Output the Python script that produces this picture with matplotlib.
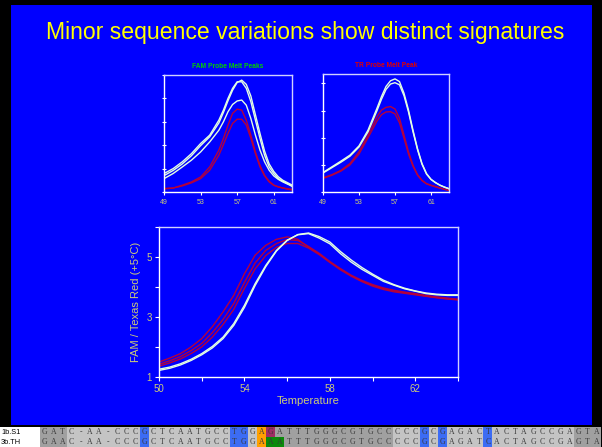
import matplotlib
matplotlib.use('Agg')
import matplotlib.pyplot as plt
from matplotlib.patches import Rectangle

plt.rcParams['font.family'] = ['Liberation Sans', 'DejaVu Sans']

W, H = 602, 447

# ---- data ----
title = 'Minor sequence variations show distinct signatures'

# small panels: temperature grid and melt peak curves
t_small = [49, 50, 51, 52, 53, 54, 55, 55.5, 56, 56.5, 57, 57.5, 58, 58.5,
           59, 59.5, 60, 60.5, 61, 61.5, 62, 62.5, 63]
fam_white = [
    [0.79, 1.0, 1.29, 1.64, 2.07, 2.43, 3.07, 3.5, 4.0, 4.43, 4.71, 4.71, 4.43, 3.86,
     3.07, 2.29, 1.57, 1.07, 0.79, 0.57, 0.46, 0.36, 0.24],
    [0.7, 0.92, 1.2, 1.55, 1.98, 2.36, 2.95, 3.4, 3.9, 4.35, 4.68, 4.78, 4.6, 4.1,
     3.3, 2.5, 1.75, 1.2, 0.88, 0.65, 0.5, 0.4, 0.3],
    [0.57, 0.79, 1.07, 1.36, 1.71, 2.14, 2.64, 3.0, 3.43, 3.74, 3.89, 3.93, 3.71, 3.14,
     2.43, 1.79, 1.29, 0.93, 0.69, 0.54, 0.43, 0.34, 0.26],
]
fam_red = [
    [0.14, 0.17, 0.29, 0.43, 0.64, 1.07, 1.79, 2.29, 2.86, 3.36, 3.54, 3.5, 3.07, 2.43,
     1.71, 1.14, 0.71, 0.46, 0.29, 0.22, 0.17, 0.14, 0.11],
    [0.14, 0.17, 0.26, 0.39, 0.57, 0.93, 1.57, 2.03, 2.5, 2.93, 3.11, 3.11, 2.86, 2.29,
     1.64, 1.07, 0.69, 0.43, 0.29, 0.22, 0.17, 0.12, 0.09],
]
tr_white = [
    [0.72, 0.93, 1.14, 1.36, 1.70, 2.28, 3.09, 3.52, 3.89, 4.1, 4.17, 4.07, 3.64, 3.02,
     2.28, 1.60, 1.05, 0.68, 0.47, 0.35, 0.25, 0.18, 0.12],
    [0.7, 0.9, 1.1, 1.32, 1.66, 2.22, 3.0, 3.42, 3.78, 3.98, 4.03, 3.95, 3.55, 2.95,
     2.22, 1.56, 1.02, 0.66, 0.46, 0.34, 0.25, 0.18, 0.12],
]
tr_red = [
    [0.52, 0.64, 0.80, 1.05, 1.48, 2.10, 2.78, 3.02, 3.12, 3.15, 3.06, 2.72, 2.10, 1.48,
     0.99, 0.64, 0.43, 0.31, 0.25, 0.2, 0.15, 0.1, 0.06],
    [0.5, 0.62, 0.77, 1.0, 1.4, 2.0, 2.62, 2.85, 2.95, 2.96, 2.88, 2.55, 1.98, 1.4,
     0.95, 0.62, 0.42, 0.3, 0.24, 0.19, 0.14, 0.1, 0.06],
]
small_xticks = [49, 53, 57, 61]

# big panel: FAM / Texas Red ratio
t_big = [50, 50.5, 51, 51.5, 52, 52.5, 53, 53.5, 54, 54.5, 55, 55.5, 56, 56.5, 57,
         57.5, 58, 58.5, 59, 59.5, 60, 60.5, 61, 61.5, 62, 62.5, 63, 63.5, 64]
ratio_white = [
    [1.26, 1.33, 1.44, 1.59, 1.78, 2.02, 2.33, 2.78, 3.39, 4.11, 4.72, 5.22, 5.56, 5.74,
     5.78, 5.63, 5.44, 5.11, 4.83, 4.59, 4.39, 4.19, 4.06, 3.94, 3.86, 3.78, 3.74,
     3.72, 3.72],
    [1.22, 1.29, 1.4, 1.55, 1.74, 1.97, 2.28, 2.72, 3.32, 4.05, 4.68, 5.2, 5.55, 5.75,
     5.8, 5.68, 5.5, 5.18, 4.9, 4.65, 4.43, 4.23, 4.08, 3.96, 3.87, 3.8, 3.76,
     3.74, 3.74],
]
ratio_red = [
    [1.5, 1.63, 1.78, 2.0, 2.28, 2.68, 3.17, 3.72, 4.44, 5.06, 5.39, 5.59, 5.67, 5.59,
     5.33, 5.11, 4.83, 4.61, 4.39, 4.22, 4.08, 3.97, 3.89, 3.83, 3.78, 3.72, 3.67,
     3.63, 3.59],
    [1.42, 1.54, 1.68, 1.88, 2.12, 2.48, 2.92, 3.45, 4.15, 4.8, 5.22, 5.45, 5.58, 5.55,
     5.35, 5.12, 4.85, 4.6, 4.38, 4.2, 4.05, 3.95, 3.87, 3.81, 3.76, 3.7, 3.65,
     3.61, 3.58],
    [1.36, 1.47, 1.6, 1.78, 2.0, 2.33, 2.75, 3.25, 3.95, 4.6, 5.05, 5.32, 5.45, 5.45,
     5.3, 5.08, 4.82, 4.57, 4.36, 4.18, 4.03, 3.92, 3.84, 3.79, 3.74, 3.69, 3.64,
     3.6, 3.57],
]
big_xticks = [50, 54, 58, 62]
big_yticks = [1, 3, 5]

# sequence alignment strip
seq_names = ['1b.S1', '3b.TH']
seq_rows = ['GATC-AA-CCCGCTCAATGCCTGGAGATTTGGGCGTGCCCCCGCGAGACTACTAGCCGAGTA',
            'GAAC-AA-CCCGCTCAATGCCTGGAAATTTGGGCGTGCCCCCGCGAGATCACTAGCCGAGTA']
# d dark grey, l light grey, b blue, o orange, p purple, g green
seq_shade = ['dddllllllllblllllllllbblopdddddddddddddlllblbllllblllllllllddd',
             'dddllllllllblllllllllbbloggddddddddddddlllblbllllblllllllllddd']
shade_col = {'d': '#a0a0a0', 'l': '#c4c4c4', 'b': '#3c6cf4', 'o': '#ffa000',
             'p': '#a02c64', 'g': '#0a8a0a'}

BLUE = '#0000ff'
WHITE_C = '#e4ffe4'
RED_C = '#b4003c'
TICK_C = '#cccc78'

fig = plt.figure(figsize=(W / 100, H / 100), dpi=100, facecolor='black')
fig.patches.append(Rectangle((11 / W, 1 - 425 / H), 581 / W, 420 / H,
                             transform=fig.transFigure, facecolor=BLUE,
                             edgecolor='none', zorder=-5))
fig.text(305 / W, 1 - 32 / H, title, color='#ffff00', fontsize=16.6,
         ha='center', va='center')


def px_axes(l, r, t, b):
    return fig.add_axes([l / W, 1 - b / H, (r - l) / W, (b - t) / H])


def style(ax, fs, tl):
    ax.set_facecolor('none')
    for s in ['left', 'bottom']:
        ax.spines[s].set_color('white')
    for s in ['top', 'right']:
        ax.spines[s].set_color('#d0d0ff')
    for s in ax.spines.values():
        s.set_linewidth(1.0)
    ax.tick_params(colors='white', labelcolor=TICK_C, labelsize=fs,
                   length=tl, width=0.8, pad=2)


# small panels
for (l, r, t, b), whites, reds, ylim, name, ncol in [
        ((164, 292, 75, 192), fam_white, fam_red, 5.0, 'FAM Probe Melt Peaks', '#00d000'),
        ((323, 449, 74, 192), tr_white, tr_red, 4.35, 'TR Probe Melt Peak', '#e00000')]:
    ax = px_axes(l, r, t, b)
    style(ax, 5, 2)
    for y in reds:
        ax.plot(t_small, y, color=RED_C, lw=1.0)
    for y in whites:
        ax.plot(t_small, y, color=WHITE_C, lw=1.0)
    ax.set_xlim(49, 63)
    ax.set_ylim(0, ylim)
    ax.set_xticks(small_xticks)
    ax.set_yticks(range(int(ylim) + 1))
    ax.set_yticklabels([])
    ax.tick_params(axis='y', direction='inout', length=3)
    ax.tick_params(axis='x', pad=3)
    ax.set_title(name, color=ncol, fontsize=4.8, fontweight='bold', pad=5)

# big panel
ax = px_axes(159, 458, 227, 377)
style(ax, 7, 3)
for y in ratio_red:
    ax.plot(t_big, y, color=RED_C, lw=1.0)
for y in ratio_white:
    ax.plot(t_big, y, color=WHITE_C, lw=1.0)
ax.set_xlim(50, 64)
ax.set_ylim(1, 6)
ax.set_xticks(range(50, 65, 2))
ax.set_xticklabels([str(v) if v in big_xticks else '' for v in range(50, 65, 2)])
ax.set_yticks(range(1, 7))
ax.set_yticklabels([str(v) if v in big_yticks else '' for v in range(1, 7)])
ax.set_xlabel('Temperature', color=TICK_C, fontsize=8)
ax.set_ylabel('FAM / Texas Red (+5\u00b0C)', color=TICK_C, fontsize=8)
ax.xaxis.set_label_coords(0.5, -0.125)
ax.yaxis.set_label_coords(-0.06, 0.5)

# sequence strip
axl = fig.add_axes([0, 0, 40 / W, 20 / H])
axl.set_xlim(0, 40)
axl.set_ylim(0, 2)
axl.axis('off')
axl.add_patch(Rectangle((0, 0), 40, 2, facecolor='white', edgecolor='none'))
for i, nm in enumerate(seq_names):
    axl.text(1, 1.5 - i, nm, fontsize=5.3, color='black', va='center', ha='left')

axs = fig.add_axes([40 / W, 0, 561 / W, 20 / H])
axs.set_xlim(0, len(seq_rows[0]))
axs.set_ylim(0, 2)
axs.axis('off')
for i, (row, shade) in enumerate(zip(seq_rows, seq_shade)):
    base = 1 - i
    axs.bar(range(len(row)), 1, bottom=base, width=1, align='edge',
            color=[shade_col[c] for c in shade], edgecolor='none')
    for j, ch in enumerate(row):
        axs.text(j + 0.5, base + 0.45, ch, fontsize=5.6, color='#383838',
                 ha='center', va='center', family='Liberation Serif')

fig.savefig('out.png', dpi=100, facecolor='black')
